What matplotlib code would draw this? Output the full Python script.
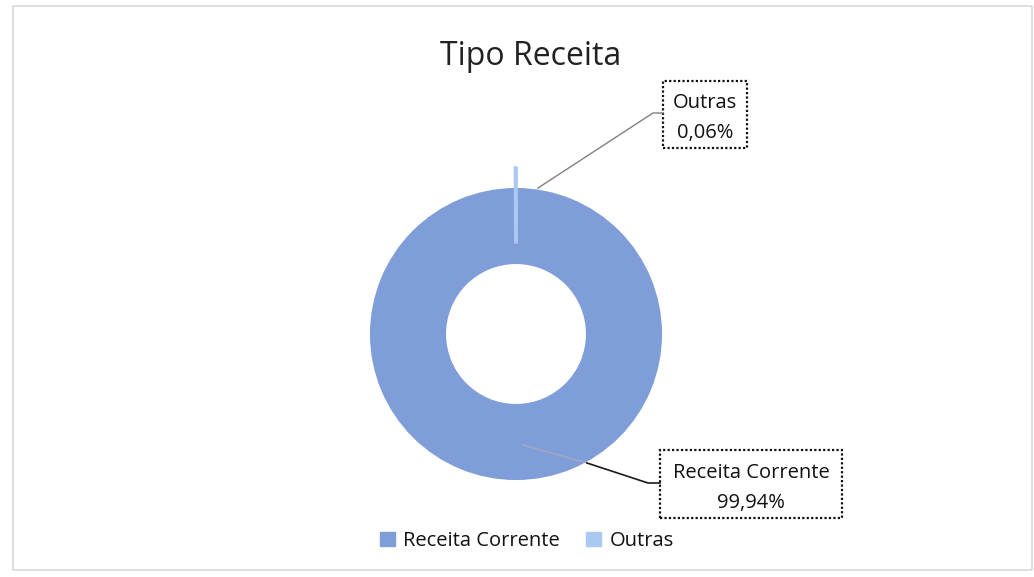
import matplotlib.pyplot as plt
from matplotlib.patches import Rectangle, Patch

# dados
categorias = ['Receita Corrente', 'Outras']
valores = [99.94, 0.06]
cores = ['#7f9ed9', '#a9c9f2']

W, H = 1034, 577
plt.rcParams['font.family'] = ['Open Sans', 'DejaVu Sans']

def py(y):
    # converte y de pixel (de cima) para coordenada do eixo
    return H - y

fig = plt.figure(figsize=(W / 100, H / 100), dpi=100)
ax = fig.add_axes([0, 0, 1, 1])

cx, cy, R = 516, 334, 145
# explode do matplotlib esta em unidades de dados (nao multiplica pelo raio)
wedges, _ = ax.pie(valores, colors=cores, startangle=90, counterclock=False,
                   center=(cx, py(cy)), radius=R, explode=[0, 21],
                   wedgeprops=dict(width=74), frame=True)
wedges[0].set_edgecolor(cores[0])
wedges[0].set_linewidth(1.5)
wedges[1].set_edgecolor(cores[1])
wedges[1].set_linewidth(2.5)

ax.set_xlim(0, W)
ax.set_ylim(0, H)
ax.axis('off')

# borda do grafico
ax.add_patch(Rectangle((13, py(570)), 1019, 564, fill=False, ec='#d9d9d9', lw=1.2))

ax.text(531, py(65), 'Tipo Receita', ha='center', va='baseline', fontsize=23, color='#222222')

def rotulo(i, box, cxt, base1):
    x0, y0, x1, y1 = box
    ax.add_patch(Rectangle((x0, py(y1)), x1 - x0, y1 - y0, fill=False, ec='#111111',
                           lw=1.6, ls=(0, (1, 1))))
    pct = f'{valores[i]:.2f}%'.replace('.', ',')
    ax.text(cxt, py(base1), categorias[i], ha='center', va='baseline', fontsize=14.5, color='#111111')
    ax.text(cxt, py(base1 + 30), pct, ha='center', va='baseline', fontsize=14.5, color='#111111')

rotulo(1, (663, 81, 747, 148), 705, 108)
rotulo(0, (660, 450, 842, 518), 751, 478)

# linhas de chamada
ax.plot([538, 653, 663], [py(188), py(113), py(113)], color='#808080', lw=1)
ax.plot([523, 587], [py(445), py(463)], color='#a8a8b8', lw=1)
ax.plot([587, 648, 660], [py(463), py(483), py(483)], color='#1a1a1a', lw=1.2)

handles = [Patch(color=c) for c in cores]
fig.legend(handles, categorias, loc='center', bbox_to_anchor=(527 / W, 1 - 541 / H),
           ncol=2, frameon=False, fontsize=14.5, handlelength=0.75, handleheight=0.75,
           handletextpad=0.4, columnspacing=1.3, labelcolor='#111111')

fig.savefig('out.png', dpi=100)
